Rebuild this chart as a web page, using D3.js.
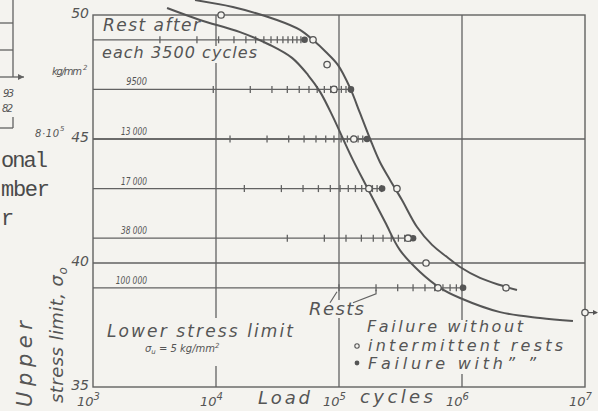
<!DOCTYPE html>
<html><head><meta charset="utf-8">
<script src="https://cdn.jsdelivr.net/npm/d3@7"></script>
<style>
html,body{margin:0;padding:0;background:#f4f3ef;}
svg{display:block;}
</style></head>
<body>
<svg id="chart" width="598" height="411"></svg>
<script>
// ---- data ----
const stressLevels   = [49, 47, 45, 43, 41, 39];
const restIntervals  = [3500, 9500, 13000, 17000, 38000, 100000];
const restLabels     = ["", "9500", "13 000", "17 000", "38 000", "100 000"];
const restCounts     = [14, 13, 12, 13, 10, 10];
const withRestCycles = [52500, 125000, 169000, 224000, 400000, 1020000];
const withRestStress = [49, 47, 45, 43, 41, 39];
const noRestCycles   = [11000, 61500, 80000, 91000, 132000, 175000, 296000, 364000, 510000, 638000, 2280000, 10000000];
const noRestStress   = [50, 49, 48, 47, 45, 43, 43, 41, 40, 39, 39, 38];
const curveRightCycles = [6750, 13700, 31300, 48200, 61500, 78300, 98200, 123000, 148000, 179000, 215000, 260000, 325000, 431000, 571000, 756000, 964000, 1400000, 2040000, 2800000];
const curveRightStress = [50.6, 50.32, 49.8, 49.4, 48.99, 48.51, 47.98, 47.06, 46.05, 45.0, 44.07, 43.35, 42.54, 41.45, 40.73, 40.24, 39.84, 39.4, 39.11, 38.91];
const curveLeftCycles  = [4000, 7400, 15700, 27500, 41500, 56000, 70200, 89300, 108000, 130000, 172000, 237000, 313000, 456000, 663000, 964000, 2040000, 4310000, 7980000];
const curveLeftStress  = [50.28, 49.8, 49.31, 48.79, 48.27, 47.58, 46.9, 45.89, 45.0, 44.15, 42.98, 41.65, 40.52, 39.64, 39.0, 38.59, 38.02, 37.78, 37.66];
const xTicks = [1e3, 1e4, 1e5, 1e6, 1e7];
const xTickExp = ["3", "4", "5", "6", "7"];
const yTicks = [35, 40, 45, 50];
const xGrid = [1e4, 1e5, 1e6];
const yGrid = [45, 40];

// ---- setup ----
const BG = "#f4f3ef", INK = "#626262", TXT = "#555555";
const FONT = "'DejaVu Sans', 'Liberation Sans', sans-serif";
const FW = 200;
const svg = d3.select("#chart");
svg.append("rect").attr("width", 598).attr("height", 411).attr("fill", BG);

const x = d3.scaleLog().domain([1e3, 1e7]).range([93, 585]);
const y = d3.scaleLinear().domain([35, 50]).range([387, 15]);

const gGrid = svg.append("g");
const gText = svg.append("g");
const gData = svg.append("g");

// grid + frame
gGrid.selectAll("line.vx").data(xGrid).join("line")
  .attr("x1", d => x(d)).attr("x2", d => x(d)).attr("y1", y(50)).attr("y2", y(35))
  .attr("stroke", INK).attr("stroke-width", 1.3);
gGrid.selectAll("line.hy").data(yGrid).join("line")
  .attr("x1", x(1e3)).attr("x2", x(1e7)).attr("y1", d => y(d)).attr("y2", d => y(d))
  .attr("stroke", INK).attr("stroke-width", 1.3);
gGrid.append("rect").attr("x", x(1e3)).attr("y", y(50))
  .attr("width", x(1e7) - x(1e3)).attr("height", y(35) - y(50))
  .attr("fill", "none").attr("stroke", INK).attr("stroke-width", 1.4);

// axes (labels only)
const yAxis = svg.append("g").attr("transform", `translate(${x(1e3)},0)`)
  .call(d3.axisLeft(y).tickValues(yTicks).tickSize(0).tickPadding(4).tickFormat(d3.format("d")));
yAxis.select(".domain").remove();
yAxis.selectAll("text").attr("font-family", FONT).attr("font-style", "italic").attr("font-weight", FW)
  .attr("font-size", 14).attr("fill", TXT).attr("dy", "0.2em");

const xAxis = svg.append("g").attr("transform", `translate(0,${y(35)})`)
  .call(d3.axisBottom(x).tickValues(xTicks).tickSize(0).tickPadding(10));
xAxis.select(".domain").remove();
xAxis.selectAll("text").each(function(d, i) {
  const t = d3.select(this);
  t.text(null).attr("font-family", FONT).attr("font-style", "italic").attr("font-weight", FW)
   .attr("font-size", 13).attr("fill", TXT).attr("dx", -5);
  t.append("tspan").text("10");
  t.append("tspan").attr("dy", -6).attr("font-size", 10).text(xTickExp[i]);
});

// helper: text
function label(g, str, px, py, fs, len, opts = {}) {
  const t = g.append("text").attr("x", px).attr("y", py)
    .attr("font-family", opts.font || FONT).attr("font-style", opts.upright ? "normal" : "italic")
    .attr("font-size", fs).attr("fill", opts.fill || TXT)
    .attr("font-weight", opts.weight || FW).text(str);
  if (len) t.attr("textLength", len).attr("lengthAdjust", opts.adjust || "spacing");
  return t;
}
function patch(x0, y0, x1, y1) {
  gText.append("rect").attr("x", x0).attr("y", y0).attr("width", x1 - x0).attr("height", y1 - y0).attr("fill", BG);
}

// background patches where lettering interrupts the grid
patch(100, 46, 262, 63);
patch(104, 318, 296, 366);
patch(306, 300, 368, 318);
patch(352, 320, 566, 374);

label(gText, "Rest after", 103, 31, 17, 97);
label(gText, "each 3500 cycles", 102, 58, 16, 155);
label(gText, "kg/mm", 52, 75, 10, 30);
label(gText, "2", 83, 70, 7, 4);

// rest interval labels
stressLevels.forEach((s, i) => {
  if (!restLabels[i]) return;
  const n = restLabels[i].replace(" ", "").length;
  label(gText, restLabels[i], 147 - n * 5.2, y(s) - 4, 10, n * 5.2, { adjust: "spacingAndGlyphs" });
});

label(gText, "Rests", 309, 315, 18, 55);
label(gText, "Lower stress limit", 107, 337, 17, 186);
const su = gText.append("text").attr("x", 145).attr("y", 352).attr("font-family", FONT)
  .attr("font-style", "italic").attr("font-weight", FW).attr("font-size", 10).attr("fill", TXT);
su.append("tspan").text("σ");
su.append("tspan").attr("dy", 2).attr("font-size", 7).text("u");
su.append("tspan").attr("dy", -2).text(" = 5 kg/mm");
su.append("tspan").attr("dy", -4).attr("font-size", 7).text("2");

label(gText, "Failure without", 367, 332, 16, 156);
label(gText, "intermittent rests", 368, 351, 16, 195);
label(gText, "Failure with\u201D  \u201D", 368, 369, 16, 168);
gText.append("circle").attr("cx", 357).attr("cy", 346).attr("r", 2.2).attr("fill", "none").attr("stroke", TXT).attr("stroke-width", 1.1);
gText.append("circle").attr("cx", 357).attr("cy", 363).attr("r", 2.4).attr("fill", TXT);

label(gText, "Load", 258, 404, 18, 52);
label(gText, "cycles", 360, 403, 18, 73);

// y title (rotated)
gText.append("text").attr("transform", "translate(32,407) rotate(-90)")
  .attr("font-family", FONT).attr("font-style", "italic").attr("font-weight", FW).attr("font-size", 21).attr("fill", TXT)
  .attr("textLength", 86).attr("lengthAdjust", "spacing").text("Upper");
const yt = gText.append("text").attr("transform", "translate(63,403) rotate(-90)")
  .attr("font-family", FONT).attr("font-style", "italic").attr("font-weight", FW).attr("font-size", 18).attr("fill", TXT);
yt.append("tspan").attr("textLength", 128).attr("lengthAdjust", "spacing").text("stress limit, σ");
yt.append("tspan").attr("dy", 4).attr("font-size", 12).text("o");

// fragment of the neighbouring figure / text on the scanned page
const frag = svg.append("g");
[[0, 23, 13, 23], [0, 50, 13, 50], [13, 0, 13, 77], [0, 77, 24, 77], [13, 117, 13, 128], [0, 128, 13, 128]]
  .forEach(p => frag.append("line").attr("x1", p[0]).attr("y1", p[1]).attr("x2", p[2]).attr("y2", p[3])
    .attr("stroke", INK).attr("stroke-width", 1.3));
frag.append("path").attr("d", "M24,77 L18,74 L18,80 Z").attr("fill", INK);
label(frag, "93", 3, 97, 10, 11);
label(frag, "82", 2, 112, 10, 11);
label(frag, "8·10", 35, 137, 10, 24);
label(frag, "5", 60, 131, 7, 4);
const mono = "'Liberation Mono', 'DejaVu Sans Mono', monospace";
label(frag, "onal", 1, 167, 22, 47, { font: mono, upright: true, fill: "#4a4a4a", weight: "normal" });
label(frag, "mber", 1, 196, 22, 49, { font: mono, upright: true, fill: "#4a4a4a", weight: "normal" });
label(frag, "r", 1, 225, 22, 13, { font: mono, upright: true, fill: "#4a4a4a", weight: "normal" });

// ---- data marks ----
// stress-level lines with rest ticks
stressLevels.forEach((s, i) => {
  const yy = y(s);
  gData.append("line").attr("x1", x(1e3)).attr("x2", x(withRestCycles[i])).attr("y1", yy).attr("y2", yy)
    .attr("stroke", INK).attr("stroke-width", 1.3);
  const rests = d3.range(1, restCounts[i] + 1).map(k => k * restIntervals[i]);
  gData.selectAll(null).data(rests).join("line")
    .attr("x1", d => x(d)).attr("x2", d => x(d)).attr("y1", yy - 3.5).attr("y2", yy + 3.5)
    .attr("stroke", INK).attr("stroke-width", 1.3);
});

// "Rests" leader lines (point to first two rests of lowest level)
gData.append("path")
  .attr("d", `M${x(1e5) - 9},${y(39) + 15} L${x(1e5) - 2},${y(39) + 4} M${x(1e5) + 14},${y(39) + 15} L${x(2e5)},${y(39) + 6} L${x(2e5)},${y(39) + 2}`)
  .attr("fill", "none").attr("stroke", INK).attr("stroke-width", 1.2);

// curves
const line = d3.line().x(d => x(d[0])).y(d => y(d[1])).curve(d3.curveCatmullRom.alpha(0.5));
gData.append("path").datum(curveRightCycles.map((c, i) => [c, curveRightStress[i]]))
  .attr("d", line).attr("fill", "none").attr("stroke", "#555").attr("stroke-width", 2);
gData.append("path").datum(curveLeftCycles.map((c, i) => [c, curveLeftStress[i]]))
  .attr("d", line).attr("fill", "none").attr("stroke", "#555").attr("stroke-width", 2);

// markers
gData.selectAll("circle.wr").data(withRestCycles).join("circle")
  .attr("cx", d => x(d)).attr("cy", (d, i) => y(withRestStress[i])).attr("r", 3.3).attr("fill", "#555");
gData.selectAll("circle.nr").data(noRestCycles).join("circle")
  .attr("cx", d => x(d)).attr("cy", (d, i) => y(noRestStress[i])).attr("r", 3.2)
  .attr("fill", BG).attr("stroke", "#555").attr("stroke-width", 1.3);

// run-out arrow
const lastI = noRestCycles.length - 1;
const ax = x(noRestCycles[lastI]), ay = y(noRestStress[lastI]);
gData.append("line").attr("x1", ax + 3).attr("x2", ax + 12).attr("y1", ay).attr("y2", ay)
  .attr("stroke", "#555").attr("stroke-width", 1.2);
gData.append("path").attr("d", `M${ax + 13},${ay} L${ax + 8},${ay - 2.5} L${ax + 8},${ay + 2.5} Z`).attr("fill", "#555");
</script>
</body></html>
